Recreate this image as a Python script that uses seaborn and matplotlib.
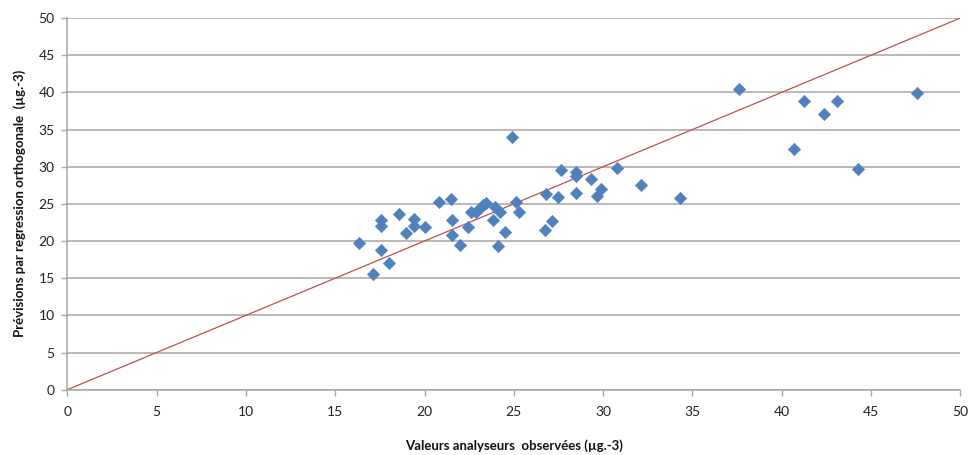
import matplotlib
matplotlib.use("Agg")
import matplotlib.pyplot as plt
import seaborn as sns
import pandas as pd

# Observed analyser values (µg.-3)
observed = [
    16.33, 17.55, 17.55, 17.55, 17.14, 18.03, 18.60, 18.95, 19.40, 19.40,
    20.00, 20.80, 21.50, 21.55, 21.55, 22.00, 22.45, 22.60, 22.90, 23.10,
    23.25, 23.45, 23.85, 23.95, 24.20, 24.10, 24.50, 24.90, 25.15, 25.30,
    26.80, 27.45, 26.75, 27.15, 27.65, 28.50, 28.50, 28.50, 29.30, 29.90,
    29.65, 30.75, 32.10, 34.30, 37.60, 40.70, 41.25, 42.35, 43.10, 44.25,
    47.55,
]
# Orthogonal regression predictions (µg.-3)
predicted = [
    19.70, 22.80, 22.05, 18.85, 15.60, 17.10, 23.60, 21.10, 22.95, 22.05,
    21.90, 25.20, 25.60, 22.80, 20.85, 19.50, 21.85, 23.90, 23.90, 24.40,
    24.90, 25.10, 22.80, 24.60, 23.90, 19.30, 21.15, 34.00, 25.20, 23.85,
    26.30, 25.90, 21.50, 22.65, 29.60, 29.30, 28.70, 26.40, 28.40, 27.00,
    26.00, 29.80, 27.60, 25.80, 40.50, 32.40, 38.80, 37.10, 38.90, 29.70,
    39.90,
]
# Reference line y = x
line_x = [0, 50]
line_y = [0, 50]

x_ticks = list(range(0, 51, 5))
y_ticks = list(range(0, 51, 5))

sns.set_theme(style="white")
plt.rcParams["font.family"] = ["Lato", "DejaVu Sans"]

df = pd.DataFrame({"obs": observed, "pred": predicted})
ref = pd.DataFrame({"x": line_x, "y": line_y})

fig = plt.figure(figsize=(9.71, 4.55), dpi=100)
ax = fig.add_axes([0.0693, 0.1435, 0.9197, 0.8169])

ax.set_xlim(0, 50)
ax.set_ylim(0, 50)
ax.set_xticks(x_ticks)
ax.set_yticks(y_ticks)

grid_col = "#A6A6A6"
ax.yaxis.grid(True, color=grid_col, linewidth=1.1, zorder=0)
ax.xaxis.grid(False)
ax.set_axisbelow(True)

sns.lineplot(data=ref, x="x", y="y", ax=ax, color="#C0504D",
             linewidth=0.9, zorder=2, legend=False)
sns.scatterplot(data=df, x="obs", y="pred", ax=ax, marker="D", s=40,
                color="#4F81BD", edgecolor="#4F81BD", linewidth=0.4,
                zorder=3, legend=False)

for side in ("top", "right"):
    ax.spines[side].set_visible(False)
for side in ("left", "bottom"):
    ax.spines[side].set_color(grid_col)
    ax.spines[side].set_linewidth(1.1)

ax.tick_params(axis="both", which="major", direction="out", length=4,
               width=1.0, color=grid_col, labelsize=10,
               labelcolor="#222222", left=True, bottom=True)
ax.tick_params(axis="y", pad=5)
ax.tick_params(axis="x", pad=8)

ax.set_xlabel("Valeurs analyseurs  observées (µg.-3)", fontsize=9.5,
              fontweight="bold", color="#111111", labelpad=15)
ax.set_ylabel("Prévisions par regression orthogonale  (µg.-3)", fontsize=9.5,
              fontweight="bold", color="#111111", labelpad=9)

fig.savefig("out.png", dpi=100)
